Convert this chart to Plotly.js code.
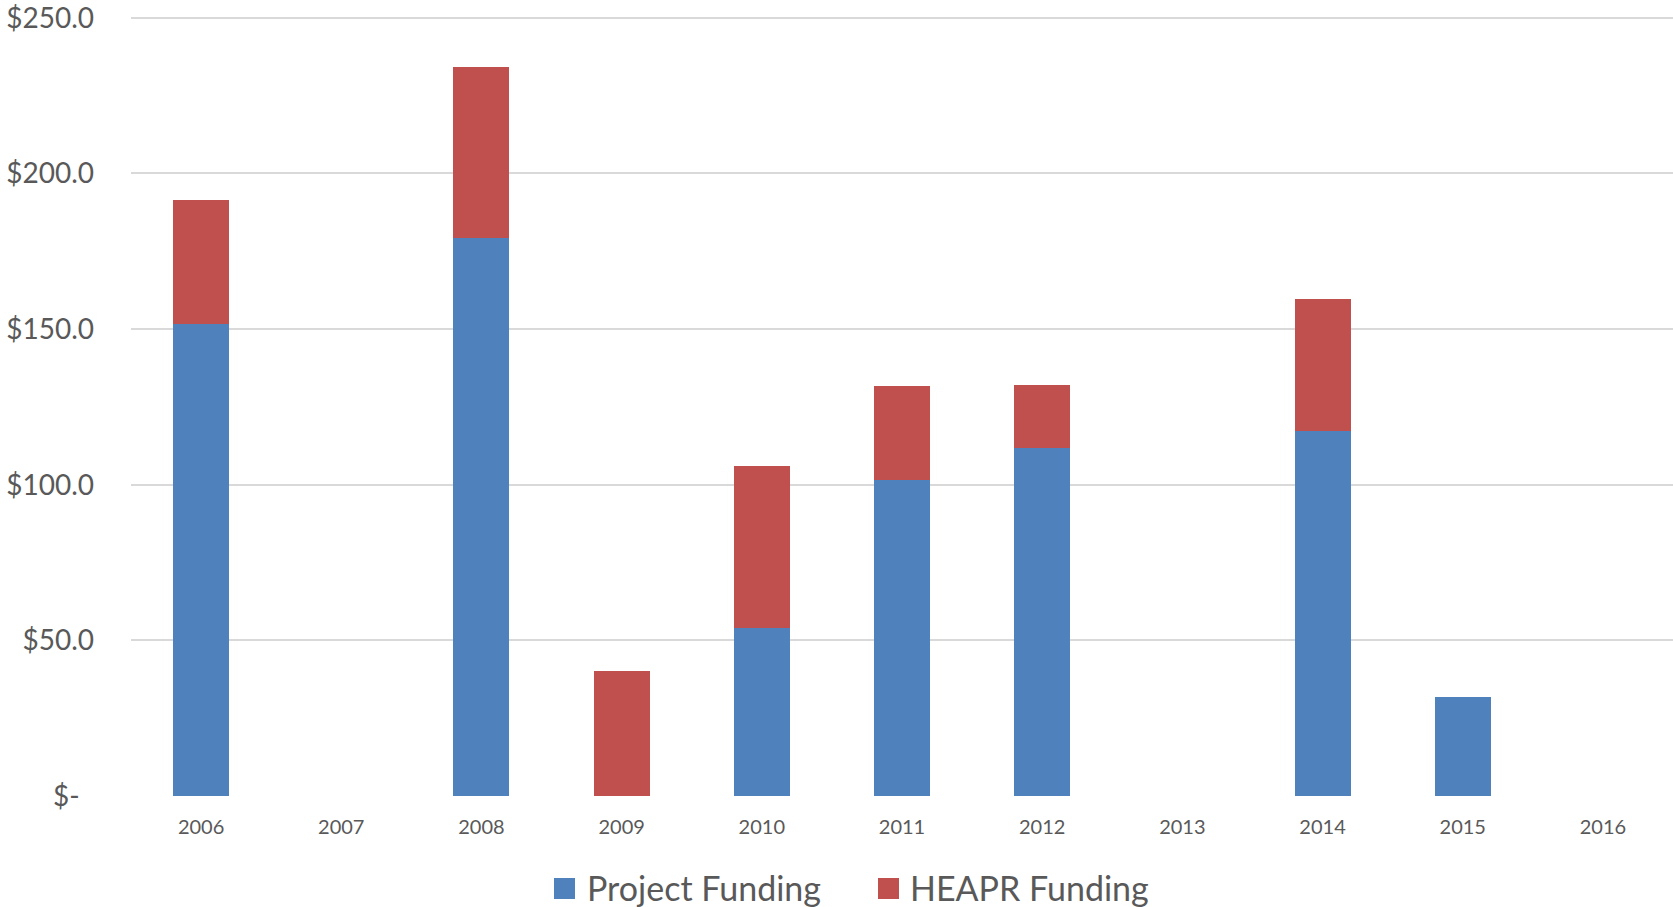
<!DOCTYPE html>
<html>
<head>
<meta charset="utf-8">
<script src="https://cdn.plot.ly/plotly-3.0.1.min.js"></script>
<style>
html,body{margin:0;padding:0;background:#fff;}
#chart{width:1673px;height:907px;}
</style>
</head>
<body>
<div id="chart"></div>
<script>
const years = ['2006','2007','2008','2009','2010','2011','2012','2013','2014','2015','2016'];
const projectFunding = [151.5, 0, 179.1, 0, 54.1, 101.5, 111.9, 0, 117.1, 31.8, 0];
const heapFunding = [39.9, 0, 55.0, 40.1, 51.9, 30.1, 20.0, 0, 42.7, 0, 0];
const yTickVals = [0, 50, 100, 150, 200, 250];
const yTickText = ['$-\u00a0\u00a0', '$50.0', '$100.0', '$150.0', '$200.0', '$250.0'];
const seriesNames = ['Project Funding', 'HEAPR Funding'];
const seriesColors = ['#4F81BD', '#C0504D'];

const FONT = 'Lato, "Open Sans", sans-serif';
const W = 1673, H = 907;
const M = {l:131, r:0, t:14, b:111, autoexpand:false};
const PW = W - M.l - M.r, PH = H - M.t - M.b;
const px2x = p => (p - M.l) / PW;
const px2y = p => (H - M.b - p) / PH;

const traces = [
  {type:'bar', name:seriesNames[0], x:years, y:projectFunding,
   marker:{color:seriesColors[0]}},
  {type:'bar', name:seriesNames[1], x:years, y:heapFunding,
   marker:{color:seriesColors[1]}}
];

// custom legend (larger swatches like the original)
const legendItems = [
  {sq:[554, 575], text:585},
  {sq:[878, 899], text:908}
];
const shapes = [], annotations = [];
legendItems.forEach((it, i) => {
  shapes.push({type:'rect', xref:'paper', yref:'paper',
    x0:px2x(it.sq[0]), x1:px2x(it.sq[1]), y0:px2y(899), y1:px2y(878),
    fillcolor:seriesColors[i], line:{width:0}});
  annotations.push({xref:'paper', yref:'paper', x:px2x(it.text), y:px2y(887),
    xanchor:'left', yanchor:'middle', showarrow:false, text:seriesNames[i],
    font:{family:FONT, size:34, color:'#595959'}});
});

const layout = {
  barmode:'stack',
  bargap:0.6,
  width:W, height:H,
  margin:M,
  paper_bgcolor:'#fff', plot_bgcolor:'#fff',
  font:{family:FONT, color:'#595959'},
  xaxis:{type:'category', showgrid:false, zeroline:false, showline:false,
    ticks:'outside', ticklen:13, tickcolor:'rgba(0,0,0,0)',
    tickfont:{size:20, color:'#595959'}},
  yaxis:{range:[0,251.2], tickvals:yTickVals, ticktext:yTickText,
    showgrid:true, gridcolor:'#D9D9D9', gridwidth:2, zeroline:false,
    showline:false, ticks:'', ticklabelstandoff:36, ticklabeloverflow:'allow',
    tickfont:{size:28, color:'#595959'}},
  showlegend:false,
  shapes:shapes,
  annotations:annotations
};
Plotly.newPlot('chart', traces, layout, {displayModeBar:false, staticPlot:true});
</script>
</body>
</html>
